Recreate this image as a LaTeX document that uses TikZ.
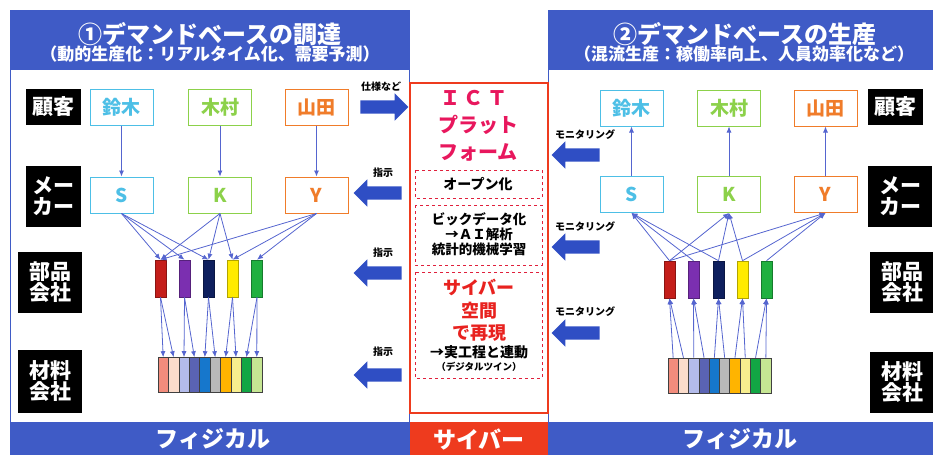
\documentclass[tikz,border=0pt]{standalone}
\usepackage{fontspec}
\setmainfont{Noto Sans CJK JP}
\usetikzlibrary{arrows.meta,shapes.arrows,calc}
\definecolor{hblue}{HTML}{3F5BC6}
\definecolor{ictred}{HTML}{EE3B1E}
\definecolor{pinkred}{HTML}{E8175D}
\definecolor{cyred}{HTML}{E8221F}
\definecolor{dashred}{HTML}{E0203C}
\definecolor{lineblue}{HTML}{5565CF}
\definecolor{fatblue}{HTML}{2F4EC4}
\definecolor{ccyan}{HTML}{4DBFE6}
\definecolor{cgreen}{HTML}{8CD14A}
\definecolor{corange}{HTML}{F07C2A}
\definecolor{pr}{HTML}{C41E1A}
\definecolor{pp}{HTML}{7B2FB0}
\definecolor{pn}{HTML}{0E1F5E}
\definecolor{py}{HTML}{FFEB00}
\definecolor{pg}{HTML}{20B040}
\definecolor{m1}{HTML}{F28C7C}
\definecolor{m2}{HTML}{FBDCCB}
\definecolor{m3}{HTML}{B3BBEA}
\definecolor{m4}{HTML}{5A63B3}
\definecolor{m5}{HTML}{1677CC}
\definecolor{m6}{HTML}{B9B9B9}
\definecolor{m7}{HTML}{FFB400}
\definecolor{m8}{HTML}{F7EE8E}
\definecolor{m9}{HTML}{12A644}
\definecolor{m10}{HTML}{C6E693}
\newcommand\fsz[1]{\fontsize{#1}{#1}\selectfont}
\begin{document}
\begin{tikzpicture}[x=1pt,y=-1pt,
  catbox/.style={fill=black, text=white, font=\fsz{21}\bfseries, inner sep=0, align=center, minimum width=55pt},
  namebox/.style={draw=#1, text=#1, fill=white, line width=1pt, minimum width=63pt, minimum height=36pt, inner sep=0, font=\fsz{19}\bfseries},
  partbox/.style={fill=#1, draw=#1!70!black, line width=0.6pt, minimum width=11pt, minimum height=37pt, inner sep=0},
  cell/.style={fill=#1, draw=black!75, line width=0.6pt, minimum width=10.4pt, minimum height=35pt, inner sep=0},
  conn/.style={lineblue, line width=0.8pt, -{Latex[length=6pt,width=5pt]}},
  fatarrow/.style={single arrow, fill=fatblue, minimum height=48pt, single arrow head extend=7pt, inner xsep=0pt, inner ysep=6.5pt, single arrow head indent=0pt},
  small/.style={font=\fsz{10}\bfseries, inner sep=0},
  dbox/.style={draw=dashred, dashed, line width=0.8pt},
]
\useasboundingbox (0,0) rectangle (933,461);
\clip (0,0) rectangle (933,461);

% ---------- panels ----------
\draw[hblue, line width=1pt] (10,10) rectangle (409,422);
\draw[hblue, line width=1pt] (548,10) rectangle (950,422);
\fill[hblue] (10,10) rectangle (409,70);
\fill[hblue] (548,10) rectangle (950,70);
\node[text=white, font=\fsz{24}\bfseries] (t1) at (210,34) {①デマンドベースの調達};
\node[text=white, font=\fsz{17}\bfseries] (s1) at (210,54) {（動的生産化：リアルタイム化、需要予測）};
\node[text=white, font=\fsz{24}\bfseries] (t2) at (745,34) {②デマンドベースの生産};
\node[text=white, font=\fsz{17}\bfseries] (s2) at (744,54) {（混流生産：稼働率向上、人員効率化など）};

% ---------- bottom bars ----------
\fill[hblue] (10,422) rectangle (410,455);
\fill[ictred] (410,422) rectangle (548,455);
\fill[hblue] (548,422) rectangle (950,455);
\node[text=white, font=\fsz{23}\bfseries] (b1) at (213,439) {フィジカル};
\node[text=white, font=\fsz{23}\bfseries] (b2) at (479,439) {サイバー};
\node[text=white, font=\fsz{23}\bfseries] (b3) at (740,439) {フィジカル};

% ---------- ICT platform ----------
\draw[ictred, line width=1.3pt] (410,83) rectangle (548,413);
\node[text=pinkred, font=\fsz{20}\bfseries] (ict1) at (474,98) {Ｉ\,Ｃ\,Ｔ};
\node[text=pinkred, font=\fsz{20}\bfseries] (ict2) at (478,125) {プラット};
\node[text=pinkred, font=\fsz{20}\bfseries] (ict3) at (478,152) {フォーム};
\draw[dbox] (415,170) rectangle (542,198);
\node[font=\fsz{14}\bfseries] (op) at (478,184) {オープン化};
\draw[dbox] (415,205) rectangle (542,265);
\node[font=\fsz{13.5}\bfseries, align=center] (bd) at (479,234) {ビックデータ化\\[1.5pt]→ＡＩ解析\\[1.5pt]統計的機械学習};
\draw[dbox] (415,272) rectangle (542,378);
\node[text=cyred, font=\fsz{18}\bfseries] (cy1) at (479,287) {サイバー};
\node[text=cyred, font=\fsz{18}\bfseries] (cy2) at (479,311) {空間};
\node[text=cyred, font=\fsz{18}\bfseries] (cy3) at (479,333) {で再現};
\node[font=\fsz{14}\bfseries] (cy4) at (479,352) {→実工程と連動};
\node[font=\fsz{9.5}\bfseries] (cy5) at (479,367) {（デジタルツイン）};

% ---------- fat arrows ----------
\node[fatarrow] (fa1) at (381,107) {};
\node[fatarrow, shape border rotate=180] (fa2) at (381,193) {};
\node[fatarrow, shape border rotate=180] (fa3) at (381,273) {};
\node[fatarrow, shape border rotate=180] (fa4) at (381,375) {};
\node[small] (la1) at (381,87) {仕様など};
\node[small] (la2) at (383,173) {指示};
\node[small] (la3) at (383,253) {指示};
\node[small] (la4) at (383,352) {指示};
\node[fatarrow, shape border rotate=180] (fb1) at (579,155) {};
\node[fatarrow, shape border rotate=180] (fb2) at (579,247) {};
\node[fatarrow, shape border rotate=180] (fb3) at (579,333) {};
\node[small] (lb1) at (585,135) {モニタリング};
\node[small] (lb2) at (585,227) {モニタリング};
\node[small] (lb3) at (585,312) {モニタリング};

% ---------- category boxes ----------
\node[catbox, minimum height=36pt] (lk1) at (53.5,107) {顧客};
\node[catbox, minimum height=61pt] (lk2) at (53.5,196.5) {メー\\カー};
\node[catbox, minimum height=61pt, minimum width=64pt] (lk3) at (50,282.5) {部品\\会社};
\node[catbox, minimum height=63pt, minimum width=64pt] (lk4) at (50,381.5) {材料\\会社};
\node[catbox, minimum height=36pt] (rk1) at (895.5,107) {顧客};
\node[catbox, minimum height=61pt, minimum width=64pt] (rk2) at (900,196.5) {メー\\カー};
\node[catbox, minimum height=61pt, minimum width=64pt] (rk3) at (902,282.5) {部品\\会社};
\node[catbox, minimum height=61pt, minimum width=64pt] (rk4) at (902,382.5) {材料\\会社};

% ---------- left network ----------
\node[namebox=ccyan] (lc1) at (121.5,107) {鈴木};
\node[namebox=cgreen] (lc2) at (220,107) {木村};
\node[namebox=corange] (lc3) at (316.5,107) {山田};
\node[namebox=ccyan] (lS) at (121.5,195) {S};
\node[namebox=cgreen] (lK) at (220,195) {K};
\node[namebox=corange] (lY) at (316.5,195) {Y};
\foreach \c/\x [count=\i] in {pr/160.5,pp/184.5,pn/208.5,py/232.5,pg/257}
  \node[partbox=\c] (lp\i) at (\x,278.5) {};
\foreach \c [count=\i] in {m1,m2,m3,m4,m5,m6,m7,m8,m9,m10}
  \node[cell=\c] (lm\i) at ({158+10.4*(\i-0.5)},375) {};
\draw[conn] (lc1) -- (lS);
\draw[conn] (lc2) -- (lK);
\draw[conn] (lc3) -- (lY);
\foreach \s/\t in {lS/lp1,lS/lp2,lS/lp3,lK/lp1,lK/lp3,lK/lp4,lY/lp1,lY/lp4,lY/lp5}
  \draw[conn] (\s.south) -- (\t.north);
\foreach \i in {1,...,5}{
  \pgfmathtruncatemacro\ma{2*\i-1}
  \pgfmathtruncatemacro\mb{2*\i}
  \draw[conn] (lp\i.south) -- (lm\ma.north);
  \draw[conn] (lp\i.south) -- (lm\mb.north);
}

% ---------- right network ----------
\node[namebox=ccyan] (rc1) at (631.5,108) {鈴木};
\node[namebox=cgreen] (rc2) at (729,108) {木村};
\node[namebox=corange] (rc3) at (825.5,108) {山田};
\node[namebox=ccyan] (rS) at (631.5,194.5) {S};
\node[namebox=cgreen] (rK) at (729,194.5) {K};
\node[namebox=corange] (rY) at (825.5,194.5) {Y};
\foreach \c/\x [count=\i] in {pr/669.5,pp/693.5,pn/718.5,py/742.5,pg/766.5}
  \node[partbox=\c] (rp\i) at (\x,279.5) {};
\foreach \c [count=\i] in {m1,m2,m3,m4,m5,m6,m7,m8,m9,m10}
  \node[cell=\c] (rm\i) at ({668+10.3*(\i-0.5)},375.5) {};
\draw[conn] (rS) -- (rc1);
\draw[conn] (rK) -- (rc2);
\draw[conn] (rY) -- (rc3);
\foreach \s/\t in {rS/rp1,rS/rp2,rS/rp3,rK/rp1,rK/rp3,rK/rp4,rY/rp1,rY/rp4,rY/rp5}
  \draw[conn] (\t.north) -- (\s.south);
\foreach \i in {1,...,5}{
  \pgfmathtruncatemacro\ma{2*\i-1}
  \pgfmathtruncatemacro\mb{2*\i}
  \draw[conn] (rm\ma.north) -- (rp\i.south);
  \draw[conn] (rm\mb.north) -- (rp\i.south);
}
\end{tikzpicture}
\end{document}
